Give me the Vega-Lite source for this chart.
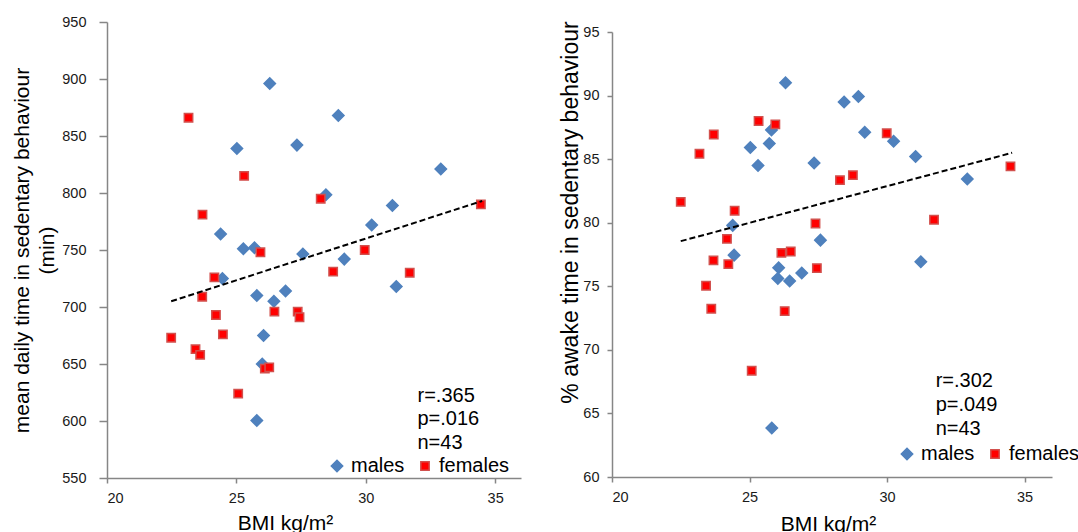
{
  "$schema": "https://vega.github.io/schema/vega-lite/v6.json",
  "background": "white",
  "padding": {"left": 11, "top": 14, "right": 0, "bottom": 0},
  "config": {
    "font": "Liberation Sans",
    "view": {"stroke": null},
    "axis": {
      "grid": false,
      "domainColor": "#868686",
      "domainWidth": 1.5,
      "tickColor": "#868686",
      "tickWidth": 1.5,
      "labelFont": "Liberation Sans",
      "labelFontSize": 14.5,
      "labelColor": "#1a1a1a",
      "titleFont": "Liberation Sans",
      "titleFontSize": 21,
      "titleFontWeight": "normal",
      "titleColor": "#000000"
    },
    "legend": {
      "labelFont": "Liberation Sans",
      "labelFontSize": 20,
      "labelColor": "#000000",
      "symbolSize": 80,
      "labelOffset": 4,
      "columnPadding": 10
    }
  },
  "datasets": {
    "sed": [
      {"bmi": 26.29, "minutes": 896, "sex": "males"},
      {"bmi": 28.94, "minutes": 868, "sex": "males"},
      {"bmi": 25.02, "minutes": 839, "sex": "males"},
      {"bmi": 27.34, "minutes": 842, "sex": "males"},
      {"bmi": 32.9, "minutes": 821, "sex": "males"},
      {"bmi": 28.46, "minutes": 798.5, "sex": "males"},
      {"bmi": 31.03, "minutes": 789, "sex": "males"},
      {"bmi": 30.23, "minutes": 772, "sex": "males"},
      {"bmi": 24.39, "minutes": 764, "sex": "males"},
      {"bmi": 25.27, "minutes": 751, "sex": "males"},
      {"bmi": 25.7, "minutes": 752, "sex": "males"},
      {"bmi": 27.57, "minutes": 746.5, "sex": "males"},
      {"bmi": 29.17, "minutes": 742, "sex": "males"},
      {"bmi": 24.46, "minutes": 725, "sex": "males"},
      {"bmi": 25.79, "minutes": 710, "sex": "males"},
      {"bmi": 26.45, "minutes": 705, "sex": "males"},
      {"bmi": 26.9, "minutes": 714, "sex": "males"},
      {"bmi": 31.18, "minutes": 718, "sex": "males"},
      {"bmi": 26.05, "minutes": 675, "sex": "males"},
      {"bmi": 26.0, "minutes": 650, "sex": "males"},
      {"bmi": 25.79, "minutes": 600.5, "sex": "males"},
      {"bmi": 23.15, "minutes": 866, "sex": "females"},
      {"bmi": 25.3, "minutes": 815, "sex": "females"},
      {"bmi": 28.26, "minutes": 795, "sex": "females"},
      {"bmi": 34.45, "minutes": 790, "sex": "females"},
      {"bmi": 23.69, "minutes": 781, "sex": "females"},
      {"bmi": 25.93, "minutes": 748, "sex": "females"},
      {"bmi": 29.96, "minutes": 750, "sex": "females"},
      {"bmi": 28.74, "minutes": 731, "sex": "females"},
      {"bmi": 31.7, "minutes": 730, "sex": "females"},
      {"bmi": 24.15, "minutes": 726, "sex": "females"},
      {"bmi": 23.68, "minutes": 709, "sex": "females"},
      {"bmi": 24.21, "minutes": 693, "sex": "females"},
      {"bmi": 24.48, "minutes": 676, "sex": "females"},
      {"bmi": 22.48, "minutes": 673, "sex": "females"},
      {"bmi": 23.42, "minutes": 663, "sex": "females"},
      {"bmi": 23.6, "minutes": 658, "sex": "females"},
      {"bmi": 26.47, "minutes": 696, "sex": "females"},
      {"bmi": 27.37, "minutes": 696, "sex": "females"},
      {"bmi": 27.44, "minutes": 691, "sex": "females"},
      {"bmi": 26.1, "minutes": 646, "sex": "females"},
      {"bmi": 26.27, "minutes": 647, "sex": "females"},
      {"bmi": 25.07, "minutes": 624, "sex": "females"}
    ],
    "awake": [
      {"bmi": 26.31, "pct": 91.0, "sex": "males"},
      {"bmi": 28.44, "pct": 89.5, "sex": "males"},
      {"bmi": 28.96, "pct": 89.93, "sex": "males"},
      {"bmi": 25.8, "pct": 87.3, "sex": "males"},
      {"bmi": 29.19, "pct": 87.12, "sex": "males"},
      {"bmi": 30.24, "pct": 86.4, "sex": "males"},
      {"bmi": 25.72, "pct": 86.23, "sex": "males"},
      {"bmi": 25.03, "pct": 85.92, "sex": "males"},
      {"bmi": 31.04, "pct": 85.2, "sex": "males"},
      {"bmi": 25.31, "pct": 84.5, "sex": "males"},
      {"bmi": 27.35, "pct": 84.7, "sex": "males"},
      {"bmi": 32.92, "pct": 83.43, "sex": "males"},
      {"bmi": 24.39, "pct": 79.79, "sex": "males"},
      {"bmi": 27.58, "pct": 78.63, "sex": "males"},
      {"bmi": 24.44, "pct": 77.45, "sex": "males"},
      {"bmi": 31.23, "pct": 76.93, "sex": "males"},
      {"bmi": 26.06, "pct": 76.45, "sex": "males"},
      {"bmi": 26.03, "pct": 75.62, "sex": "males"},
      {"bmi": 26.46, "pct": 75.41, "sex": "males"},
      {"bmi": 26.9, "pct": 76.04, "sex": "males"},
      {"bmi": 25.81, "pct": 63.85, "sex": "males"},
      {"bmi": 25.33, "pct": 88.0, "sex": "females"},
      {"bmi": 25.94, "pct": 87.73, "sex": "females"},
      {"bmi": 23.7, "pct": 86.94, "sex": "females"},
      {"bmi": 29.99, "pct": 87.04, "sex": "females"},
      {"bmi": 23.18, "pct": 85.42, "sex": "females"},
      {"bmi": 34.49, "pct": 84.43, "sex": "females"},
      {"bmi": 28.76, "pct": 83.74, "sex": "females"},
      {"bmi": 28.29, "pct": 83.35, "sex": "females"},
      {"bmi": 22.5, "pct": 81.64, "sex": "females"},
      {"bmi": 24.46, "pct": 80.94, "sex": "females"},
      {"bmi": 27.4, "pct": 79.94, "sex": "females"},
      {"bmi": 31.71, "pct": 80.23, "sex": "females"},
      {"bmi": 24.18, "pct": 78.73, "sex": "females"},
      {"bmi": 26.16, "pct": 77.63, "sex": "females"},
      {"bmi": 26.5, "pct": 77.74, "sex": "females"},
      {"bmi": 23.69, "pct": 77.04, "sex": "females"},
      {"bmi": 24.23, "pct": 76.74, "sex": "females"},
      {"bmi": 27.45, "pct": 76.43, "sex": "females"},
      {"bmi": 23.42, "pct": 75.04, "sex": "females"},
      {"bmi": 23.61, "pct": 73.23, "sex": "females"},
      {"bmi": 26.28, "pct": 73.05, "sex": "females"},
      {"bmi": 25.08, "pct": 68.36, "sex": "females"}
    ],
    "trendSed": [
      {"bmi": 22.48, "minutes": 705},
      {"bmi": 34.5, "minutes": 793}
    ],
    "trendAwake": [
      {"bmi": 22.5, "pct": 78.55},
      {"bmi": 34.55, "pct": 85.5}
    ],
    "statsSed": [
      {"bmi": 32.0, "minutes": 622, "label": "r=.365"},
      {"bmi": 32.0, "minutes": 602, "label": "p=.016"},
      {"bmi": 32.0, "minutes": 581, "label": "n=43"}
    ],
    "statsAwake": [
      {"bmi": 31.77, "pct": 67.55, "label": "r=.302"},
      {"bmi": 31.77, "pct": 65.65, "label": "p=.049"},
      {"bmi": 31.77, "pct": 63.75, "label": "n=43"}
    ]
  },
  "spacing": 38,
  "resolve": {
    "scale": {"color": "independent", "shape": "independent", "stroke": "independent", "size": "independent"},
    "legend": {"color": "independent", "shape": "independent", "stroke": "independent"}
  },
  "hconcat": [
    {
      "width": 414,
      "height": 456,
      "layer": [
        {
          "data": {"name": "sed"},
          "mark": {"type": "point", "filled": true, "opacity": 1, "strokeWidth": 1.5},
          "encoding": {
            "x": {"field": "bmi", "type": "quantitative", "scale": {"domain": [20, 36], "nice": false, "zero": false},
              "axis": {"values": [20, 25, 30, 35], "title": "BMI kg/m²", "tickSize": 5, "labelPadding": 8, "titleX": 178, "titleY": 51, "titleBaseline": "alphabetic"}},
            "y": {"field": "minutes", "type": "quantitative", "scale": {"domain": [550, 950], "nice": false, "zero": false},
              "axis": {"values": [550, 600, 650, 700, 750, 800, 850, 900, 950], "title": ["mean daily time in sedentary behaviour", "(min)"], "tickSize": 8, "labelPadding": 13, "titlePadding": 4, "titleLineHeight": 25}},
            "color": {"field": "sex", "type": "nominal", "scale": {"domain": ["males", "females"], "range": ["#4F81BD", "#FF0000"]},
              "legend": {"title": null, "orient": "none", "direction": "horizontal", "legendX": 220, "legendY": 434}},
            "shape": {"field": "sex", "type": "nominal", "scale": {"domain": ["males", "females"], "range": ["diamond", "square"]},
              "legend": {"title": null, "orient": "none", "direction": "horizontal", "legendX": 220, "legendY": 434}},
            "stroke": {"field": "sex", "type": "nominal", "scale": {"domain": ["males", "females"], "range": ["#4F81BD", "#D2504D"]},
              "legend": {"title": null, "orient": "none", "direction": "horizontal", "legendX": 220, "legendY": 434}},
            "size": {"field": "sex", "type": "nominal", "scale": {"domain": ["males", "females"], "range": [130, 70]}, "legend": null}
          }
        },
        {
          "data": {"name": "trendSed"},
          "mark": {"type": "line", "color": "#000000", "strokeWidth": 2, "strokeDash": [6, 3]},
          "encoding": {
            "x": {"field": "bmi", "type": "quantitative"},
            "y": {"field": "minutes", "type": "quantitative"}
          }
        },
        {
          "data": {"name": "statsSed"},
          "mark": {"type": "text", "align": "left", "baseline": "middle", "fontSize": 20, "font": "Liberation Sans", "color": "#000000"},
          "encoding": {
            "x": {"field": "bmi", "type": "quantitative"},
            "y": {"field": "minutes", "type": "quantitative"},
            "text": {"field": "label"}
          }
        }
      ]
    },
    {
      "spacing": -3,
      "vconcat": [
        {
          "width": 10,
          "height": 1,
          "data": {"values": []},
          "mark": "point",
          "view": {"stroke": null}
        },
        {
          "width": 440,
          "height": 445,
          "layer": [
            {
              "data": {"name": "awake"},
              "mark": {"type": "point", "filled": true, "opacity": 1, "strokeWidth": 1.5},
              "encoding": {
                "x": {"field": "bmi", "type": "quantitative", "scale": {"domain": [20, 36], "nice": false, "zero": false},
                  "axis": {"values": [20, 25, 30, 35], "title": "BMI kg/m²", "tickSize": 5, "labelPadding": 8, "titleX": 216, "titleY": 53, "titleBaseline": "alphabetic"}},
                "y": {"field": "pct", "type": "quantitative", "scale": {"domain": [60, 95], "nice": false, "zero": false},
                  "axis": {"values": [60, 65, 70, 75, 80, 85, 90, 95], "title": "% awake time in sedentary behaviour", "titleFontSize": 23, "tickSize": 5, "labelPadding": 8, "titlePadding": 0, "titleY": 180}},
                "color": {"field": "sex", "type": "nominal", "scale": {"domain": ["males", "females"], "range": ["#4F81BD", "#FF0000"]},
                  "legend": {"title": null, "orient": "none", "direction": "horizontal", "legendX": 285, "legendY": 422}},
                "shape": {"field": "sex", "type": "nominal", "scale": {"domain": ["males", "females"], "range": ["diamond", "square"]},
                  "legend": {"title": null, "orient": "none", "direction": "horizontal", "legendX": 285, "legendY": 422}},
                "stroke": {"field": "sex", "type": "nominal", "scale": {"domain": ["males", "females"], "range": ["#4F81BD", "#D2504D"]},
                  "legend": {"title": null, "orient": "none", "direction": "horizontal", "legendX": 285, "legendY": 422}},
                "size": {"field": "sex", "type": "nominal", "scale": {"domain": ["males", "females"], "range": [130, 70]}, "legend": null}
              }
            },
            {
              "data": {"name": "trendAwake"},
              "mark": {"type": "line", "color": "#000000", "strokeWidth": 2, "strokeDash": [6, 3]},
              "encoding": {
                "x": {"field": "bmi", "type": "quantitative"},
                "y": {"field": "pct", "type": "quantitative"}
              }
            },
            {
              "data": {"name": "statsAwake"},
              "mark": {"type": "text", "align": "left", "baseline": "middle", "fontSize": 20, "font": "Liberation Sans", "color": "#000000"},
              "encoding": {
                "x": {"field": "bmi", "type": "quantitative"},
                "y": {"field": "pct", "type": "quantitative"},
                "text": {"field": "label"}
              }
            }
          ]
        }
      ]
    }
  ]
}
